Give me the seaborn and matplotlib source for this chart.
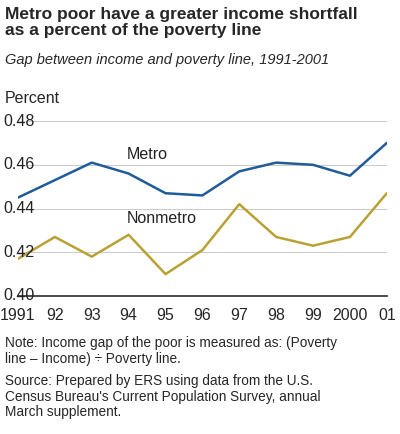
import matplotlib
matplotlib.use("Agg")
import matplotlib.pyplot as plt
import seaborn as sns
import pandas as pd

years = [1991, 1992, 1993, 1994, 1995, 1996, 1997, 1998, 1999, 2000, 2001]
year_labels = ["1991", "92", "93", "94", "95", "96", "97", "98", "99", "2000", "01"]
metro = [0.445, 0.453, 0.461, 0.456, 0.447, 0.446, 0.457, 0.461, 0.460, 0.455, 0.470]
nonmetro = [0.417, 0.427, 0.418, 0.428, 0.410, 0.421, 0.442, 0.427, 0.423, 0.427, 0.447]
yticks = [0.40, 0.42, 0.44, 0.46, 0.48]

df = pd.DataFrame({"year": years * 2, "value": metro + nonmetro,
                   "area": ["Metro"] * 11 + ["Nonmetro"] * 11})

sns.set_theme(style="white")
plt.rcParams['font.family'] = ['Liberation Sans', 'DejaVu Sans']

fig = plt.figure(figsize=(4.0, 4.34), dpi=100)
ax = fig.add_axes([0.045, 0.318, 0.922, 0.403])
sns.lineplot(data=df, x="year", y="value", hue="area",
             palette={"Metro": "#1f5c99", "Nonmetro": "#b9a134"},
             linewidth=1.8, legend=False, ax=ax)

ax.set_xlim(1991, 2001)
ax.set_ylim(0.40, 0.48)
ax.set_yticks(yticks)
ax.set_yticklabels([])
ax.set_xticks(years)
ax.set_xticklabels(year_labels)
ax.tick_params(axis="x", labelsize=11.5, length=0, pad=9)
ax.tick_params(axis="y", length=0)
ax.grid(axis="y", color="#cccccc", linewidth=0.8)
ax.set_axisbelow(True)
for s in ["top", "right", "left"]:
    ax.spines[s].set_visible(False)
ax.spines["bottom"].set_color("#333333")
ax.set_xlabel("")
ax.set_ylabel("")
for v in yticks:
    ax.text(-0.04, v, f"{v:.2f}", transform=ax.get_yaxis_transform(), fontsize=11.5,
            ha="left", va="center", color="#222222")

ax.text(1994.5, 0.4645, "Metro", fontsize=11.5, color="#222222", ha="center", va="center")
ax.text(1994.9, 0.4355, "Nonmetro", fontsize=11.5, color="#222222", ha="center", va="center")

fig.text(0.013, 0.985, "Metro poor have a greater income shortfall\nas a percent of the poverty line",
         fontsize=12.5, fontweight="bold", va="top", linespacing=1.1)
fig.text(0.013, 0.878, "Gap between income and poverty line, 1991-2001",
         fontsize=10.5, style="italic", va="top")
fig.text(0.013, 0.79, "Percent", fontsize=11.5, va="top")
fig.text(0.013, 0.225, "Note: Income gap of the poor is measured as: (Poverty\nline \u2013 Income) \u00f7 Poverty line.",
         fontsize=9.8, va="top", linespacing=1.15)
fig.text(0.013, 0.138, "Source: Prepared by ERS using data from the U.S.\nCensus Bureau's Current Population Survey, annual\nMarch supplement.",
         fontsize=9.8, va="top", linespacing=1.15)

fig.savefig("out.png", dpi=100)
